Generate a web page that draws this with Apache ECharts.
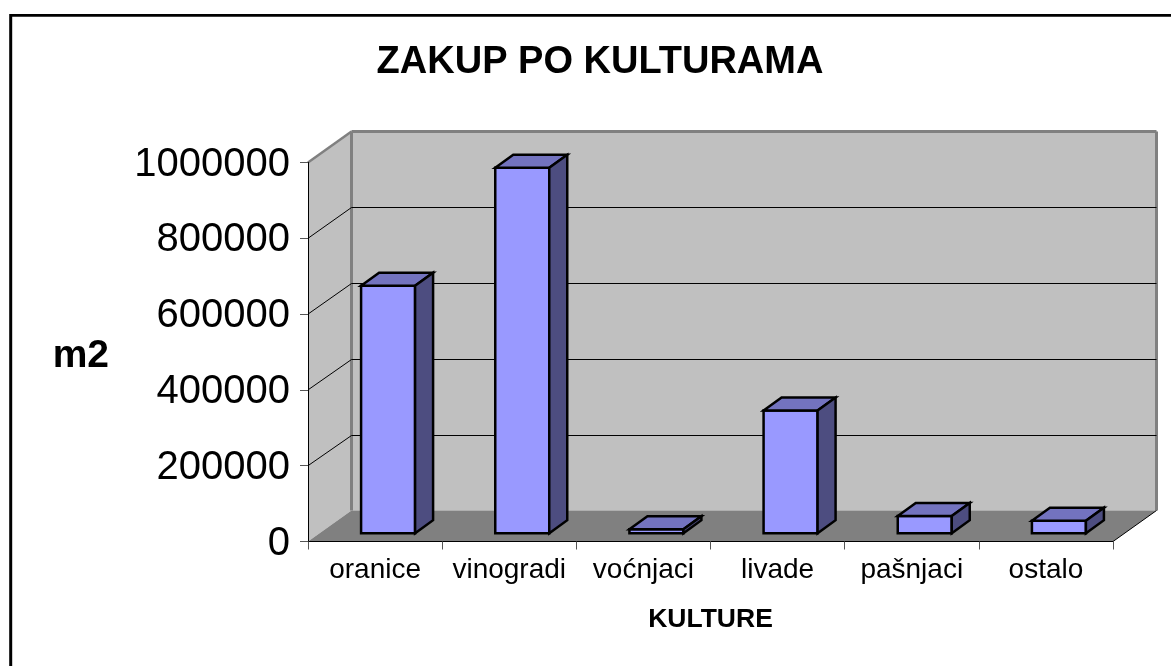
<!DOCTYPE html>
<html><head><meta charset="utf-8">
<style>html,body{margin:0;padding:0;background:#fff}#c{width:1171px;height:666px}</style>
<script src="https://cdn.jsdelivr.net/npm/echarts@6/dist/echarts.min.js"></script>
</head><body><div id="c"></div>
<script>
const categories = ['oranice','vinogradi','voćnjaci','livade','pašnjaci','ostalo'];
const values = [653000,964000,10500,323500,45600,33000];
const innerTicks = [200000,400000,600000,800000];
const chartTitle = 'ZAKUP PO KULTURAMA';
const yName = 'm2';
const xName = 'KULTURE';

const FONT = '"Liberation Sans", Arial, sans-serif';
const DX = 43.5, DY = -31;           // wall depth
const BDX = 18, BDY = -13;           // bar depth
const OX = 13, OY = -8.3;            // bar front offset from the axis plane
const BAR_W = 54;

const chart = echarts.init(document.getElementById('c'), null, {renderer:'canvas'});

function poly(points, fill, stroke, lw){
  return {type:'polygon', shape:{points}, style:{fill, stroke:stroke||null, lineWidth:lw||0, lineJoin:'miter'}};
}
function seg(a,b,stroke,lw){
  return {type:'line', shape:{x1:a[0],y1:a[1],x2:b[0],y2:b[1]}, style:{stroke, lineWidth:lw}};
}

function renderWalls(params, api){
  const cs = params.coordSys;
  const l = cs.x, r = cs.x + cs.width, t = cs.y, b = cs.y + cs.height;
  return {type:'group', children:[
    poly([[l+DX,t+DY],[r+DX,t+DY],[r+DX,b+DY],[l+DX,b+DY]], '#C0C0C0'),
    poly([[l,t],[l+DX,t+DY],[l+DX,b+DY],[l,b]], '#C0C0C0'),
    poly([[l,b],[l+DX,b+DY],[r+DX,b+DY],[r,b]], '#808080'),
    seg([l,t],[l+DX,t+DY],'#808080',2.5),
    seg([l+DX,t+DY],[r+DX,t+DY],'#808080',3),
    seg([l+DX,t+DY],[l+DX,b+DY],'#808080',3),
    seg([r+DX,t+DY],[r+DX,b+DY],'#808080',3),
    seg([r,b],[r+DX,b+DY],'#000',1)
  ]};
}
function renderGridline(params, api){
  const cs = params.coordSys;
  const p = api.coord([0, api.value(1)]);
  const l = cs.x, r = cs.x + cs.width, y = p[1];
  const by = Math.round(y + DY) + 0.5;
  return {type:'group', children:[
    seg([l,y],[l+DX,by],'#000',1),
    seg([l+DX,by],[r+DX,by],'#000',1)
  ]};
}
function renderBar(params, api){
  const p = api.coord([api.value(0), api.value(1)]);
  const z = api.coord([api.value(0), 0]);
  const x0 = p[0] + OX - BAR_W/2, x1 = x0 + BAR_W;
  const yt = p[1] + OY, yb = z[1] + OY;
  return {type:'group', children:[
    poly([[x0,yt],[x1,yt],[x1,yb],[x0,yb]], '#9999FF', '#000', 2.5),
    poly([[x0,yt],[x0+BDX,yt+BDY],[x1+BDX,yt+BDY],[x1,yt]], '#7373BF', '#000', 2.5),
    poly([[x1,yt],[x1+BDX,yt+BDY],[x1+BDX,yb+BDY],[x1,yb]], '#4D4D80', '#000', 2.5)
  ]};
}

chart.setOption({
  animation:false,
  backgroundColor:'#fff',
  title:{text:chartTitle, left:595, top:39, textAlign:'center',
    textStyle:{fontFamily:FONT,fontWeight:'bold',fontSize:38,color:'#000'}},
  grid:{left:308, top:162.5, width:805, height:379, containLabel:false},
  xAxis:{type:'category', data:categories, z:5,
    name:xName, nameLocation:'middle', nameGap:65,
    nameTextStyle:{fontFamily:FONT,fontWeight:'bold',fontSize:26.5,color:'#000'},
    axisLine:{lineStyle:{color:'#000',width:1}},
    axisTick:{show:true,alignWithLabel:false,length:8,lineStyle:{color:'#555',width:1}},
    axisLabel:{fontFamily:FONT,fontSize:28,color:'#000',margin:14.5,interval:0},
    splitLine:{show:false}},
  yAxis:{type:'value', min:0, max:1000000, interval:200000, z:5,
    name:'{n|'+yName+'}', nameLocation:'middle', nameRotate:0, nameGap:199,
    nameTextStyle:{rich:{n:{fontFamily:FONT,fontWeight:'bold',fontSize:39,color:'#000',padding:[8,0,0,0]}}},
    axisLine:{show:true,lineStyle:{color:'#000',width:1}},
    axisTick:{show:true,length:8,lineStyle:{color:'#555',width:1}},
    axisLabel:{margin:18,formatter:v=>'{v|'+v+'}',
      rich:{v:{fontFamily:FONT,fontSize:40,color:'#000',padding:[4,0,0,0]}}},
    splitLine:{show:false}},
  graphic:[
    {type:'line',shape:{x1:10.7,y1:15.4,x2:1171,y2:15.4},style:{stroke:'#000',lineWidth:2.6},silent:true},
    {type:'line',shape:{x1:10.7,y1:14,x2:10.7,y2:666},style:{stroke:'#000',lineWidth:3},silent:true}
  ],
  series:[
    {type:'custom', name:'walls', renderItem:renderWalls, data:[[0,0]], encode:{x:0,y:1}, clip:false, z:1, silent:true},
    {type:'custom', name:'gridlines', renderItem:renderGridline, data:innerTicks.map(v=>[0,v]), encode:{x:0,y:1}, clip:false, z:2, silent:true},
    {type:'custom', name:'m2', renderItem:renderBar, data:values.map((v,i)=>[i,v]), encode:{x:0,y:1}, clip:false, z:3, silent:true}
  ]
});
</script></body></html>
